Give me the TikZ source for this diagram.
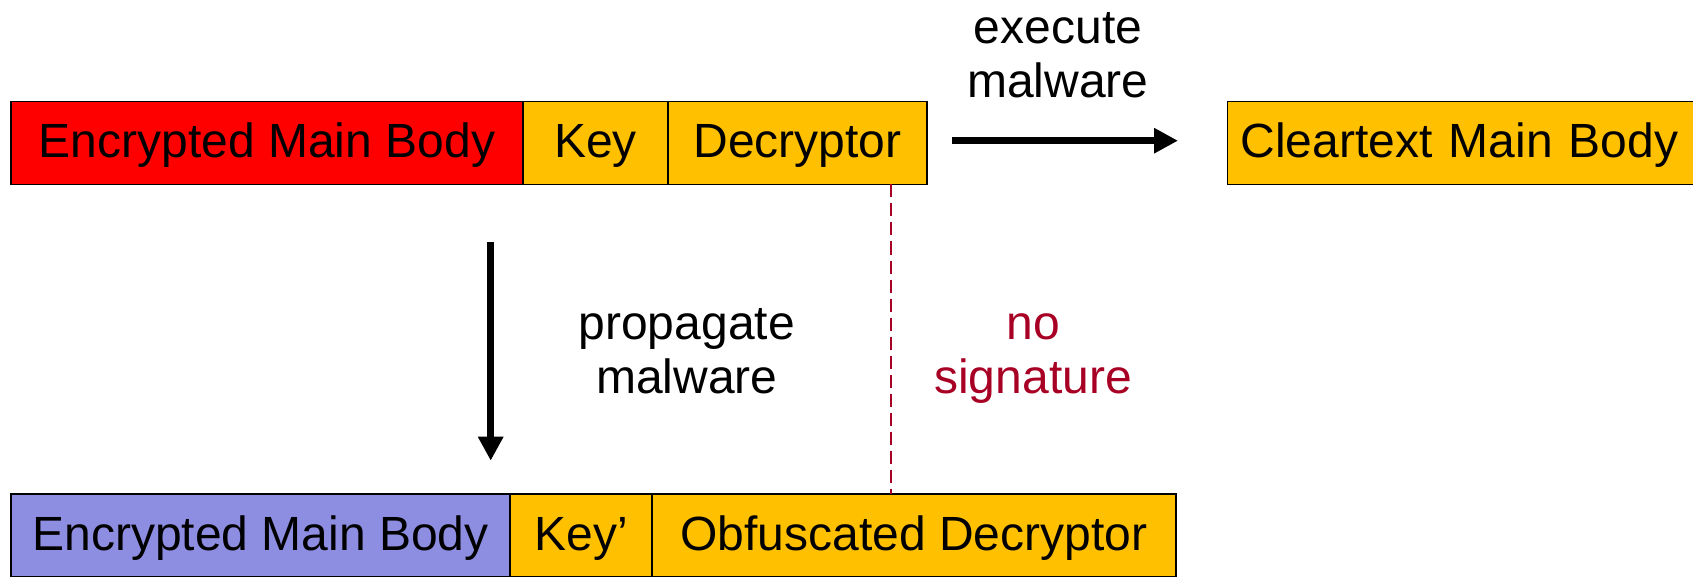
\documentclass[tikz,border=0pt]{standalone}
\usepackage{fontspec}
\setmainfont{Liberation Sans}
\usetikzlibrary{arrows.meta}
\definecolor{cred}{RGB}{255,0,0}
\definecolor{corange}{RGB}{255,192,0}
\definecolor{cpurple}{RGB}{141,141,226}
\definecolor{cdark}{RGB}{168,0,36}
\newcommand{\twolines}[1]{\begin{tabular}[t]{@{}c@{}}#1\end{tabular}}
\begin{document}
\begin{tikzpicture}[x=1pt,y=-1pt,
  cell/.style={draw=black, line width=1.3pt, inner sep=0pt, minimum height=83pt,
    text height=34.5pt, text depth=5pt, font=\fontsize{48}{54}\selectfont},
  lab/.style={anchor=base, inner sep=0pt, font=\fontsize{48}{54}\selectfont},
  bigarrow/.style={line width=7.5pt, -{Triangle[length=24pt,width=24pt]}},
  sigline/.style={draw=cdark, line width=1.3pt, dash pattern=on 13pt off 6pt}]
\useasboundingbox (0,0) rectangle (1693,577);

% top row
\node[cell, fill=cred, minimum width=512pt] (emb) at (267,142.75) {Encrypted Main Body};
\node[cell, fill=corange, minimum width=145pt] (key) at (595.5,142.75) {Key};
\node[cell, fill=corange, minimum width=259pt] (dec) at (797.5,142.75) {Decryptor};

% cleartext
\node[cell, fill=corange, anchor=west, text width=452pt, align=left, inner xsep=13pt] (clear) at (1227,142.75) {Cleartext Main Body};

% bottom row
\node[cell, fill=cpurple, minimum width=499pt] (emb2) at (260.5,535.5) {Encrypted Main Body};
\node[cell, fill=corange, minimum width=142pt] (key2) at (581,535.5) {Key’};
\node[cell, fill=corange, minimum width=524pt] (dec2) at (914,535.5) {Obfuscated Decryptor};

% arrows
\coordinate (ea) at (952,140.7);
\coordinate (eb) at (1178,140.7);
\draw[bigarrow] (ea) -- (eb);
\coordinate (pa) at (490.7,242.3);
\coordinate (pb) at (490.7,460.7);
\draw[bigarrow] (pa) -- (pb);

% dashed signature line
\coordinate (sa) at (891,184.5);
\coordinate (sb) at (891,494);
\draw[sigline] (sa) -- (sb);

% labels
\node[lab] (lexec) at (1058,44) {\twolines{execute\\malware}};
\node[lab] (lprop) at (686.7,339) {\twolines{propagate\\malware}};
\node[lab, text=cdark] (lsig) at (1033,339) {\twolines{no\\signature}};
\end{tikzpicture}
\end{document}
